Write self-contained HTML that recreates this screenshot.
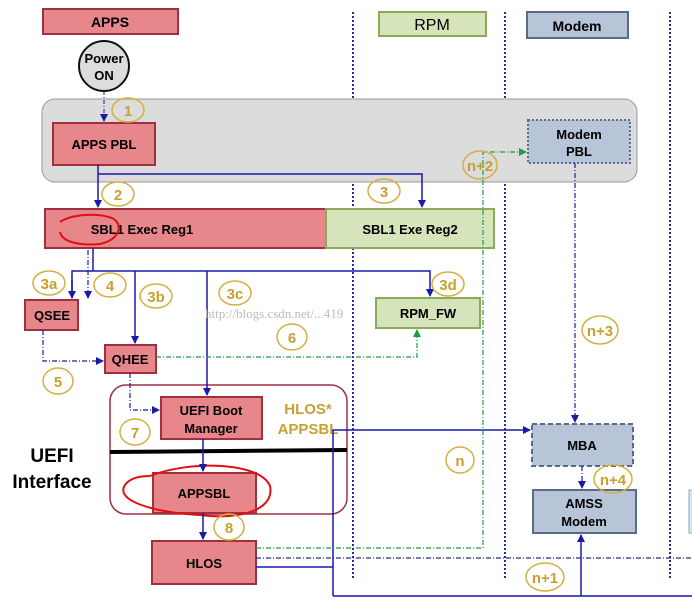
<!DOCTYPE html>
<html><head><meta charset="utf-8"><style>
html,body{margin:0;padding:0;background:#fff;}
svg{display:block;font-family:"Liberation Sans",Arial,sans-serif;}
</style></head><body>
<svg width="692" height="602" viewBox="0 0 692 602" xmlns="http://www.w3.org/2000/svg">
<defs>
<marker id="ab" markerWidth="8" markerHeight="8" refX="7" refY="4" orient="auto" markerUnits="userSpaceOnUse"><path d="M0,0 L8,4 L0,8z" fill="#1a1aaa"/></marker>
<marker id="ag" markerWidth="8" markerHeight="8" refX="7" refY="4" orient="auto" markerUnits="userSpaceOnUse"><path d="M0,0 L8,4 L0,8z" fill="#1aa040"/></marker>
</defs>
<!-- lane lines -->
<g stroke="#2a2aa0" stroke-width="2" stroke-dasharray="2,2">
<line x1="353" y1="12" x2="353" y2="580"/>
<line x1="505" y1="12" x2="505" y2="580"/>
<line x1="670" y1="12" x2="670" y2="580"/>
</g>
<!-- grey band -->
<rect x="42" y="99" width="595" height="83" rx="13" fill="#dcdcdc" stroke="#999"/>
<!-- header boxes -->
<rect x="43" y="9" width="135" height="25" fill="#e8878b" stroke="#a03040" stroke-width="2"/>
<text x="110" y="27" font-size="14" font-weight="bold" text-anchor="middle">APPS</text>
<rect x="379" y="12" width="107" height="24" fill="#d6e4bc" stroke="#8aac5a" stroke-width="2"/>
<text x="432" y="30" font-size="16" text-anchor="middle">RPM</text>
<rect x="527" y="12" width="101" height="26" fill="#b8c4d8" stroke="#5a6a8a" stroke-width="2"/>
<text x="577" y="31" font-size="14" font-weight="bold" text-anchor="middle">Modem</text>
<!-- power on -->
<circle cx="104" cy="66" r="25" fill="#ddd" stroke="#111" stroke-width="2"/>
<text x="104" y="63" font-size="13" font-weight="bold" text-anchor="middle">Power</text>
<text x="104" y="80" font-size="13" font-weight="bold" text-anchor="middle">ON</text>
<line x1="104" y1="91" x2="104" y2="121" stroke="#1a1aaa" stroke-dasharray="4,2,1,2" marker-end="url(#ab)"/>
<!-- boxes -->
<g fill="#e8878b" stroke="#a03040" stroke-width="2">
<rect x="53" y="123" width="102" height="42"/>
<rect x="45" y="209" width="281" height="39"/>
<rect x="25" y="300" width="53" height="30"/>
<rect x="105" y="345" width="51" height="28"/>
<rect x="161" y="397" width="101" height="42"/>
<rect x="153" y="473" width="103" height="40"/>
<rect x="152" y="541" width="104" height="43"/>
</g>
<rect x="326" y="209" width="168" height="39" fill="#d6e4bc" stroke="#8aac5a" stroke-width="2"/>
<rect x="376" y="298" width="104" height="30" fill="#d6e4bc" stroke="#8aac5a" stroke-width="2"/>
<rect x="528" y="120" width="102" height="43" fill="#b8c4d8" stroke="#5a6a8a" stroke-width="2" stroke-dasharray="2,2"/>
<rect x="532" y="424" width="101" height="42" fill="#b8c4d8" stroke="#5a6a8a" stroke-width="2" stroke-dasharray="5,3"/>
<rect x="533" y="490" width="103" height="43" fill="#b8c4d8" stroke="#5a6a8a" stroke-width="2"/>
<rect x="689" y="490" width="4" height="43" fill="#d0e8f0" stroke="#8ac"/>
<g font-size="13" font-weight="bold" text-anchor="middle">
<text x="104" y="149">APPS PBL</text>
<text x="142" y="234">SBL1 Exec Reg1</text>
<text x="410" y="234">SBL1 Exe Reg2</text>
<text x="52" y="320">QSEE</text>
<text x="130" y="364">QHEE</text>
<text x="428" y="318">RPM_FW</text>
<text x="211" y="415">UEFI Boot</text>
<text x="211" y="433">Manager</text>
<text x="204" y="498">APPSBL</text>
<text x="204" y="568">HLOS</text>
<text x="579" y="139">Modem</text>
<text x="579" y="156">PBL</text>
<text x="582" y="450">MBA</text>
<text x="584" y="508">AMSS</text>
<text x="584" y="526">Modem</text>
</g>
<!-- HLOS group -->
<rect x="110" y="385" width="237" height="129" rx="16" fill="none" stroke="#a03040" stroke-width="1.5"/>
<line x1="110" y1="452" x2="347" y2="450" stroke="#000" stroke-width="4"/>
<text x="308" y="414" font-size="15" font-weight="bold" fill="#c8a030" text-anchor="middle">HLOS*</text>
<text x="308" y="434" font-size="15" font-weight="bold" fill="#c8a030" text-anchor="middle">APPSBL</text>
<text x="52" y="462" font-size="19" font-weight="bold" text-anchor="middle">UEFI</text>
<text x="52" y="488" font-size="19" font-weight="bold" text-anchor="middle">Interface</text>
<!-- red scribbles -->
<path d="M60,222 C 70,215 95,212 112,218 C 124,224 120,240 100,244 C 80,246 62,242 60,232" fill="none" stroke="#e01010" stroke-width="2"/>
<path d="M150,476 C 190,460 260,462 270,486 C 275,510 240,520 200,515 C 150,512 115,500 125,485 C 130,478 140,476 150,476" fill="none" stroke="#e01010" stroke-width="2"/>
<!-- blue connectors -->
<g stroke="#1a1aaa" stroke-width="1.5" fill="none">
<line x1="98" y1="165" x2="98" y2="207" marker-end="url(#ab)"/>
<polyline points="98,174 422,174 422,207" marker-end="url(#ab)"/>
<line x1="93" y1="248" x2="93" y2="271"/>
<polyline points="72,298 72,271 430,271 430,296" marker-end="url(#ab)"/>
<line x1="135" y1="271" x2="135" y2="343" marker-end="url(#ab)"/>
<line x1="207" y1="271" x2="207" y2="395" marker-end="url(#ab)"/>
<line x1="72" y1="280" x2="72" y2="298" marker-end="url(#ab)"/>
<line x1="203" y1="439" x2="203" y2="471" marker-end="url(#ab)"/>
<line x1="203" y1="513" x2="203" y2="539" marker-end="url(#ab)"/>
<polyline points="256,567 333,567"/>
<polyline points="333,596 333,430 530,430" marker-end="url(#ab)"/>
<polyline points="333,596 692,596"/>
<line x1="581" y1="596" x2="581" y2="535" marker-end="url(#ab)"/>
</g>
<g stroke="#1a1aaa" stroke-width="1.2" fill="none" stroke-dasharray="5,2,1,2">
<line x1="88" y1="250" x2="88" y2="298" marker-end="url(#ab)"/>
<polyline points="43,330 43,361 103,361" marker-end="url(#ab)"/>
<polyline points="130,373 130,410 159,410" marker-end="url(#ab)"/>
<line x1="575" y1="163" x2="575" y2="422" marker-end="url(#ab)"/>
<line x1="582" y1="466" x2="582" y2="488" marker-end="url(#ab)"/>
<line x1="256" y1="558" x2="692" y2="558" stroke="#203080"/>
</g>
<g stroke="#1aa040" stroke-width="1.2" fill="none" stroke-dasharray="5,2,1,2">
<polyline points="156,357 417,357 417,330" marker-end="url(#ag)"/>
<polyline points="256,548 483,548 483,152 526,152" marker-end="url(#ag)"/>
</g>
<!-- step labels -->
<g fill="none" stroke="#d4b040" stroke-width="1.5">
<ellipse cx="128" cy="110" rx="16" ry="12"/>
<ellipse cx="118" cy="194" rx="16" ry="12"/>
<ellipse cx="384" cy="191" rx="16" ry="12"/>
<ellipse cx="480" cy="165" rx="17" ry="14"/>
<ellipse cx="49" cy="283" rx="16" ry="12"/>
<ellipse cx="110" cy="285" rx="16" ry="12"/>
<ellipse cx="156" cy="296" rx="16" ry="12"/>
<ellipse cx="235" cy="293" rx="16" ry="12"/>
<ellipse cx="448" cy="284" rx="16" ry="12"/>
<ellipse cx="292" cy="337" rx="15" ry="13"/>
<ellipse cx="58" cy="381" rx="15" ry="13"/>
<ellipse cx="135" cy="432" rx="15" ry="13"/>
<ellipse cx="229" cy="527" rx="15" ry="13"/>
<ellipse cx="460" cy="460" rx="14" ry="13"/>
<ellipse cx="600" cy="330" rx="18" ry="14"/>
<ellipse cx="613" cy="479" rx="19" ry="14"/>
<ellipse cx="545" cy="577" rx="19" ry="14"/>
</g>
<g fill="#c8a030" font-size="15" font-weight="bold" text-anchor="middle">
<text x="128" y="116">1</text><text x="118" y="200">2</text><text x="384" y="197">3</text>
<text x="480" y="171">n+2</text><text x="49" y="289">3a</text><text x="110" y="291">4</text>
<text x="156" y="302">3b</text><text x="235" y="299">3c</text><text x="448" y="290">3d</text>
<text x="292" y="343">6</text><text x="58" y="387">5</text><text x="135" y="438">7</text>
<text x="229" y="533">8</text><text x="460" y="466">n</text><text x="600" y="336">n+3</text>
<text x="613" y="485">n+4</text><text x="545" y="583">n+1</text>
</g>
<text x="205" y="318" font-size="13" fill="#bbb" font-family="Liberation Serif,serif">http://blogs.csdn.net/...419</text>
</svg>
</body></html>
